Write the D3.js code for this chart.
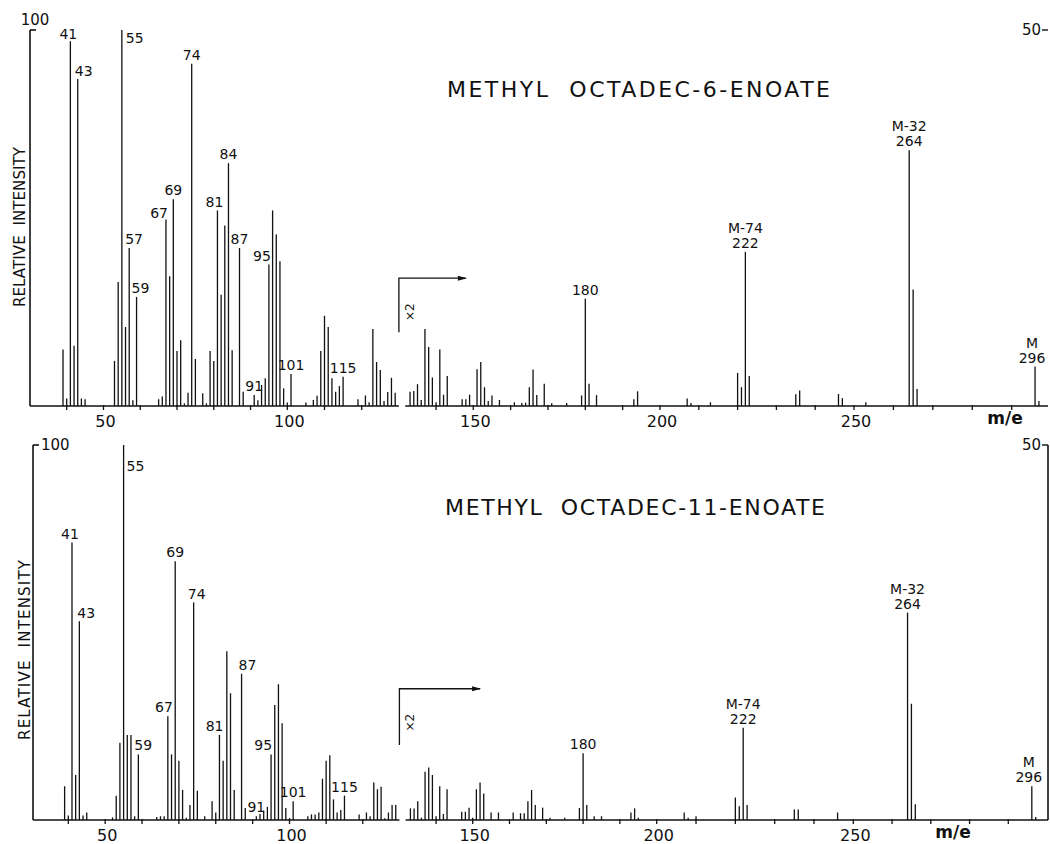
<!DOCTYPE html>
<html>
<head>
<meta charset="utf-8">
<script src="https://d3js.org/d3.v7.min.js"></script>
<style>
  body { margin: 0; background: #fff; }
  svg text { font-family: "DejaVu Sans", sans-serif; fill: #111; }
  svg text.pre { white-space: pre; }
</style>
</head>
<body>
<script>
// ---- data: m/e and plotted relative intensity (above m/e 130 the trace is shown x2) ----
var mz6 = [39,40,41,42,43,44,45,53,54,55,56,57,58,59,65,66,67,68,69,70,71,72,73,74,75,77,78,79,80,81,82,83,84,85,87,88,
  91,92,93,94,95,96,97,98,99,100,101,105,107,108,109,110,111,112,113,114,115,119,121,122,123,124,125,126,127,128,129,
  133,134,135,136,137,138,139,140,141,142,143,147,148,149,151,152,153,154,155,157,161,163,164,165,166,167,169,171,175,
  179,180,181,183,193,194,207,208,213,220,221,222,223,235,236,246,247,253,264,265,266,296,297];
var int6 = [15,2,97,16,87,2,1.8,12,33,100,21,42,1.5,29,1.8,2.5,49.6,34.5,55,14.6,17.5,0.7,3.5,91,12.5,3.4,0.7,14.6,12,52,29.6,48,64.6,14.8,42,3.8,
  2.9,1.5,5.6,7.4,37.6,52,45.6,38.5,4.7,0.9,8.5,0.9,1.6,2.7,14.6,24,21,7.4,3.8,5.3,7.8,1.8,2.8,1,20.5,11.7,9.6,1.3,3.7,7.5,3.5,
  3.8,4,5.8,1.6,20.5,15.7,7.6,1,15,3,8,1.8,1.8,3,9.8,11.7,5,1.3,2.8,1.6,1,0.8,0.9,5,9.7,2.9,5.9,0.7,0.8,
  2.8,28.5,5.9,2.9,1.8,3.9,2,0.8,1,8.8,5,41,8,3.1,4.1,3.2,2.1,1,68,31,4.5,10.5,1.3];
var labels6 = [[41,["41"]],[43,["43"]],[55,["55"]],[57,["57"]],[59,["59"]],[67,["67"]],[69,["69"]],[74,["74"]],
  [81,["81"]],[84,["84"]],[87,["87"]],[91,["91"]],[95,["95"]],[101,["101"]],[115,["115"]],[180,["180"]],
  [222,["M-74","222"]],[264,["M-32","264"]],[296,["M","296"]]];

var mz11 = [39,40,41,42,43,44,45,52,53,54,55,56,57,58,59,64,65,66,67,68,69,70,71,72,73,74,75,77,79,80,81,82,83,84,85,87,88,
  91,92,93,94,95,96,97,98,99,100,101,105,106,107,108,109,110,111,112,113,114,115,119,121,122,123,124,125,126,127,128,129,
  133,134,135,136,137,138,139,140,141,142,143,147,148,149,150,151,152,153,155,157,161,163,164,165,166,167,169,171,175,
  179,180,181,183,185,193,194,195,207,208,210,220,221,222,223,235,236,246,264,265,266,296,297];
var int11 = [9,1.2,74,12,53,1.2,2,0.7,6.5,20.6,100,22.7,22.7,1,17.5,0.8,1,1,27.7,17.5,69,15.8,8,0.6,4,58,7.8,1,5,2,22.7,15.8,45,33.8,8,39,3.2,
  1,1.6,2.5,3.5,17.5,30.7,36.2,25.8,3.2,0.5,5,1,1.5,1.5,2,11,15.8,17.3,5.5,2,2.7,6.5,1.5,2,1,10,8.2,8.9,0.5,2,4,4,
  3.1,3.1,5,0.6,12.9,14,12,1,9,1.6,8.2,2.2,2.2,3.3,0.6,8.2,10,7.1,2,2,2,1.8,1.8,5,8,4,3.3,0.6,0.6,
  3.2,17.8,4,1,1,2,3.1,0.6,2,0.6,1,6,3.7,24.6,4,2.8,2.8,2,55.3,31,4.2,9,0.8];
var labels11 = [[41,["41"]],[43,["43"]],[55,["55"]],[59,["59"]],[67,["67"]],[69,["69"]],[74,["74"]],[81,["81"]],
  [87,["87"]],[91,["91"]],[95,["95"]],[101,["101"]],[115,["115"]],[180,["180"]],
  [222,["M-74","222"]],[264,["M-32","264"]],[296,["M","296"]]];

var tickLabels = [50, 100, 150, 200, 250];
var titles = ["METHYL  OCTADEC-6-ENOATE", "METHYL  OCTADEC-11-ENOATE"];

// ---- layout ----
var width = 1050, height = 844;
var svg = d3.select("body").append("svg").attr("width", width).attr("height", height);

// chart paper is slightly uneven, so the m/e axis is piecewise linear through its tick positions
var knots = [40, 100, 150, 200, 250, 290, 300];

var panels = [
  { mz: mz6, inten: int6, labels: labels6, title: titles[0],
    xr: [66.7, 287.3, 473.3, 660, 854, 1011.7, 1050.6], base: 406, top: 30, axisX: 30,
    titleX: 447, titleY: 97, titleLen: 383, yLabX: 25, yLabY: 227, yLabLen: 160,
    me: [1005, 424], arrowEnd: 148, arrowLev: 34, breakLow: 19.6, rightLine: false,
    place: { 41: ["middle", -2, -2], 43: ["start", -3, -3], 55: ["start", 4, 13], 57: ["start", -4, -4],
             59: ["start", -5, -4], 67: ["end", 2, -2], 81: ["middle", -3, -3], 95: ["end", 2, -4],
             296: ["middle", -3, -4] } },
  { mz: mz11, inten: int11, labels: labels11, title: titles[1],
    xr: [68.3, 289.5, 472.7, 656.7, 853.3, 1008.3, 1047.5], base: 820, top: 445, axisX: 33,
    titleX: 445, titleY: 515, titleLen: 380, yLabX: 30, yLabY: 650, yLabLen: 180,
    me: [953, 838], arrowEnd: 152, arrowLev: 35, breakLow: 20, rightLine: true,
    place: { 41: ["middle", -2, -4], 43: ["start", -2, -3], 55: ["start", 3, 26], 59: ["start", -4, -4],
             67: ["end", 5, -4], 74: ["middle", 3, -4], 81: ["end", 4, -4], 87: ["start", -3, -4],
             95: ["end", 1, -4], 296: ["middle", -3, -4] } }
];

panels.forEach(drawPanel);

function drawPanel(p, i) {
  var x = d3.scaleLinear().domain(knots).range(p.xr);
  var y = d3.scaleLinear().domain([0, 100]).range([p.base, p.top]);
  var g = svg.append("g").attr("class", "panel" + i);

  // baseline, broken where the x2 trace starts
  g.append("line").attr("x1", p.axisX).attr("x2", x(130)).attr("y1", p.base).attr("y2", p.base)
    .attr("stroke", "#111").attr("stroke-width", 1.6);
  g.append("line").attr("x1", x(131.7)).attr("x2", width - 2).attr("y1", p.base).attr("y2", p.base)
    .attr("stroke", "#111").attr("stroke-width", 1.6);

  // tick marks every 10
  var ticks = d3.range(40, 300, 10).filter(function (v) { return v !== 130; });
  g.selectAll("line.tick").data(ticks).join("line").attr("class", "tick")
    .attr("x1", function (d) { return x(d); }).attr("x2", function (d) { return x(d); })
    .attr("y1", p.base - 1).attr("y2", p.base + 4)
    .attr("stroke", "#111").attr("stroke-width", 1.3);

  g.selectAll("text.tl").data(tickLabels).join("text").attr("class", "tl")
    .attr("x", function (d) { return x(d) + 2; }).attr("y", p.base + 21)
    .attr("text-anchor", "middle").attr("font-size", 16).text(function (d) { return d; });

  // peaks
  var pts = d3.zip(p.mz, p.inten);
  g.selectAll("line.peak").data(pts).join("line").attr("class", "peak")
    .attr("x1", function (d) { return x(d[0]); }).attr("x2", function (d) { return x(d[0]); })
    .attr("y1", p.base).attr("y2", function (d) { return y(d[1]); })
    .attr("stroke", "#111").attr("stroke-width", 1.3);

  // peak labels
  var lookup = new Map(pts);
  p.labels.forEach(function (l) {
    var m = l[0], lines = l[1];
    var pl = p.place[m] || ["middle", 0, -4];
    var px = x(m) + pl[1], py = y(lookup.get(m)) + pl[2];
    lines.forEach(function (s, k) {
      g.append("text").attr("x", px).attr("y", py - (lines.length - 1 - k) * 15)
        .attr("text-anchor", pl[0]).attr("font-size", 14).text(s);
    });
  });

  // left intensity axis
  g.append("line").attr("x1", p.axisX).attr("x2", p.axisX).attr("y1", p.top).attr("y2", p.base)
    .attr("stroke", "#111").attr("stroke-width", 1.6);
  g.append("line").attr("x1", p.axisX).attr("x2", p.axisX + 6).attr("y1", p.top).attr("y2", p.top)
    .attr("stroke", "#111").attr("stroke-width", 1.6);
  if (i === 0) {
    g.append("text").attr("x", p.axisX + 5).attr("y", p.top - 5).attr("text-anchor", "middle")
      .attr("font-size", 15).text("100");
  } else {
    g.append("text").attr("x", p.axisX + 8).attr("y", p.top + 5).attr("font-size", 15).text("100");
  }

  // right x2 scale
  g.append("line").attr("x1", width - 8).attr("x2", width - 2).attr("y1", p.top).attr("y2", p.top)
    .attr("stroke", "#111").attr("stroke-width", 1.4);
  g.append("text").attr("x", width - 9).attr("y", p.top + 5).attr("text-anchor", "end")
    .attr("font-size", 15).text("50");
  if (p.rightLine) {
    g.append("line").attr("x1", width - 2).attr("x2", width - 2).attr("y1", p.top).attr("y2", p.base)
      .attr("stroke", "#111").attr("stroke-width", 1.6);
  }

  // x2 bracket with arrow
  var bx = x(130), by = y(p.arrowLev), ex = x(p.arrowEnd);
  g.append("path").attr("d", "M" + bx + "," + y(p.breakLow) + "V" + by + "H" + ex)
    .attr("fill", "none").attr("stroke", "#111").attr("stroke-width", 1.3);
  g.append("path").attr("d", "M" + (ex + 1) + "," + by + "l-9,-2.5v5z").attr("fill", "#111");
  g.append("text").attr("transform", "translate(" + (bx + 15) + "," + (by + 34) + ") rotate(-90)")
    .attr("text-anchor", "middle").attr("font-size", 12).text("×2");

  // title and axis titles
  g.append("text").attr("class", "pre").attr("x", p.titleX).attr("y", p.titleY).attr("font-size", 22)
    .attr("textLength", p.titleLen).attr("lengthAdjust", "spacing").text(p.title);
  g.append("text").attr("class", "pre")
    .attr("transform", "translate(" + p.yLabX + "," + p.yLabY + ") rotate(-90)")
    .attr("text-anchor", "middle").attr("font-size", 15)
    .attr("textLength", p.yLabLen).attr("lengthAdjust", "spacing").text("RELATIVE  INTENSITY");
  g.append("text").attr("x", p.me[0]).attr("y", p.me[1]).attr("text-anchor", "middle")
    .attr("font-size", 17).attr("font-weight", "bold").text("m/e");
}
</script>
</body>
</html>
